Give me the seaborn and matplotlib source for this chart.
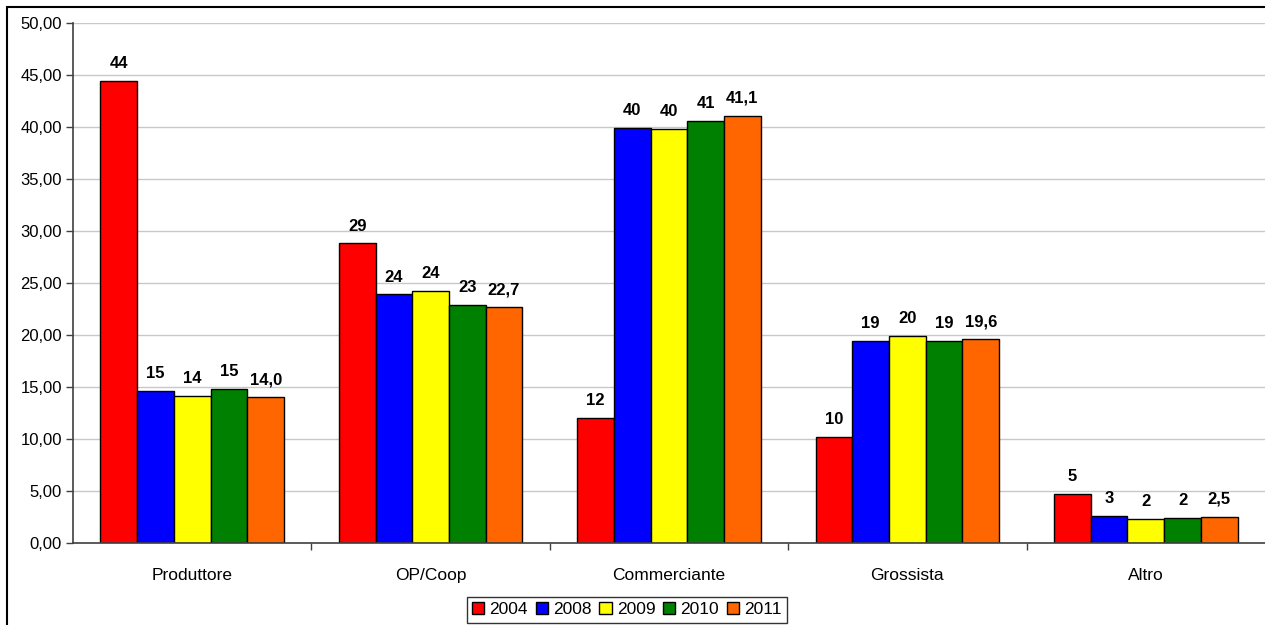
import matplotlib
matplotlib.use("Agg")
import matplotlib.pyplot as plt
from matplotlib.patches import Rectangle
from matplotlib.ticker import FuncFormatter, FixedLocator
import seaborn as sns
import pandas as pd

# Share of sales by channel, per year
categories = ["Produttore", "OP/Coop", "Commerciante", "Grossista", "Altro"]
years = ["2004", "2008", "2009", "2010", "2011"]
v2004 = [44.4, 28.8, 12.0, 10.2, 4.7]
v2008 = [14.6, 23.9, 39.9, 19.4, 2.6]
v2009 = [14.1, 24.2, 39.8, 19.9, 2.3]
v2010 = [14.8, 22.9, 40.6, 19.4, 2.4]
v2011 = [14.0, 22.7, 41.1, 19.6, 2.5]
colors = ["#FF0000", "#0000FF", "#FFFF00", "#008000", "#FF6600"]
# decimals shown in the value labels for each year
label_decimals = [0, 0, 0, 0, 1]

series = [v2004, v2008, v2009, v2010, v2011]
df = pd.DataFrame(
    [(c, y, v) for y, vals in zip(years, series) for c, v in zip(categories, vals)],
    columns=["Canale", "Anno", "Valore"],
)

sns.set_theme(style="white")
plt.rcParams["font.family"] = ["Liberation Sans", "DejaVu Sans"]
plt.rcParams["text.color"] = "black"

W, H = 1265, 625
fig = plt.figure(figsize=(W / 100, H / 100), dpi=100)
ax = fig.add_axes([73 / W, 1 - 542.7 / H, 1 - 73 / W, (542.7 - 23) / H])

sns.barplot(
    data=df, x="Canale", y="Valore", hue="Anno", order=categories, hue_order=years,
    palette=colors, width=0.77, gap=0, edgecolor="black", linewidth=1.0,
    saturation=1, errorbar=None, ax=ax, legend=True,
)

# value labels above each bar
for cont, dec in zip(ax.containers, label_decimals):
    labels = [f"{b.get_height():.{dec}f}".replace(".", ",") for b in cont]
    ax.bar_label(cont, labels=labels, padding=7, fontsize=12, fontweight="bold",
                 color="black")

ax.set_ylim(0, 50)
ax.set_xlim(-0.5, 4.5)
ax.yaxis.set_major_locator(FixedLocator(list(range(0, 51, 5))))
ax.yaxis.set_major_formatter(FuncFormatter(lambda v, p: f"{v:.2f}".replace(".", ",")))
ax.set_axisbelow(True)
ax.yaxis.grid(True, color="#c8c8c8", linewidth=1.0)
ax.xaxis.grid(False)
ax.set_xlabel("")
ax.set_ylabel("")

ax.tick_params(axis="y", which="major", left=True, length=5, width=1, color="#404040",
               labelsize=12, pad=3, labelcolor="black")
ax.tick_params(axis="x", which="major", bottom=False, length=0, labelsize=12.5, pad=18,
               labelcolor="black")
ax.set_xticks([i + 0.5 for i in range(len(categories) - 1)], minor=True)
ax.tick_params(axis="x", which="minor", bottom=True, length=5, width=1, color="#404040")

for side in ["top", "right"]:
    ax.spines[side].set_visible(False)
for side in ["left", "bottom"]:
    ax.spines[side].set_color("#404040")
    ax.spines[side].set_linewidth(1.2)

handles, labels = ax.get_legend_handles_labels()
ax.legend_.remove()
leg = fig.legend(
    handles, labels, loc="upper center", bbox_to_anchor=(627 / W, 1 - 597 / H),
    ncol=5, fontsize=12.5, frameon=True, fancybox=False, edgecolor="black",
    handlelength=0.7, handleheight=0.7, handletextpad=0.3, columnspacing=0.45,
    borderpad=0.3, borderaxespad=0,
)
leg.get_frame().set_linewidth(1.0)
for h in leg.legend_handles:
    h.set_edgecolor("black")
    h.set_linewidth(1.0)

# chart area border
fig.add_artist(Rectangle((7 / W, -0.05), 1.2, 1.05 - 6.5 / H, transform=fig.transFigure,
                         fill=False, edgecolor="black", linewidth=1.5))

fig.savefig("out.png", dpi=100, facecolor="white")
